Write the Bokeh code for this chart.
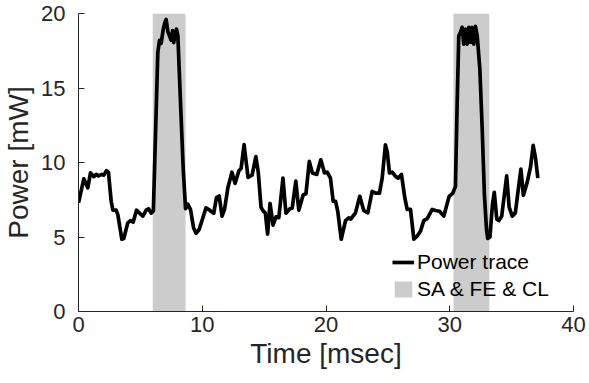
from bokeh.plotting import figure
from bokeh.models import Range1d, FixedTicker, Legend, LegendItem
from bokeh.embed import file_html
from bokeh.resources import INLINE

# ---- data ----
time_ms = [0.0, 0.43, 0.75, 0.97, 1.24, 1.43, 1.62, 1.89, 2.05, 2.26, 2.42, 2.64, 2.78, 3.04, 3.18,
           3.5, 3.66, 3.98, 4.2, 4.42, 4.69, 4.93, 5.2, 5.47, 5.66, 5.87, 6.05, 6.22, 6.41, 6.55,
           6.68, 6.84, 6.98, 7.08, 7.22, 7.35, 7.49, 7.6, 7.7, 7.81, 7.92, 8.03, 8.24, 8.46, 8.65,
           8.83, 9.05, 9.3, 9.5, 9.75, 10.3, 10.6, 10.93, 11.15, 11.37, 11.6, 11.8, 12.07, 12.4,
           12.65, 12.96, 13.14, 13.38, 13.7, 14.03, 14.33, 14.52, 14.75, 14.92, 15.1, 15.28, 15.48,
           15.72, 15.96, 16.19, 16.52, 16.76, 17.08, 17.27, 17.56, 17.8, 18.16, 18.38, 18.65, 18.9,
           19.25, 19.58, 19.88, 20.1, 20.36, 20.58, 20.77, 20.95, 21.23, 21.58, 21.84, 22.0, 22.38,
           22.73, 23.05, 23.38, 23.73, 24.0, 24.32, 24.54, 24.8, 24.95, 25.13, 25.35, 25.62, 25.83,
           26.1, 26.37, 26.56, 26.83, 27.1, 27.37, 27.64, 27.9, 28.18, 28.58, 28.85, 29.17, 29.52,
           29.95, 30.25, 30.46, 30.6, 30.73, 30.87, 31.0, 31.13, 31.27, 31.4, 31.54, 31.68, 31.8,
           31.94, 32.08, 32.22, 32.43, 32.62, 32.8, 32.97, 33.07, 33.25, 33.45, 33.6, 33.8, 33.97,
           34.2, 34.6, 34.8, 35.05, 35.3, 35.5, 35.75, 35.95, 36.25, 36.53, 36.74, 36.93, 37.12]
power_mw = [7.3, 8.9, 8.3, 9.3, 9.05, 9.2, 9.1, 9.2, 9.15, 9.45, 9.35, 7.4, 6.8, 6.8, 6.5,
            4.85, 4.9, 5.95, 6.1, 6.0, 6.8, 6.6, 6.4, 6.8, 6.9, 6.6, 6.75, 11.8, 17.4, 18.2,
            18.0, 18.9, 19.4, 19.6, 18.8, 18.5, 18.2, 18.85, 18.05, 18.7, 18.95, 18.5, 14.1, 9.6, 6.9,
            7.2, 6.85, 5.6, 5.25, 5.5, 6.95, 6.8, 6.6, 7.65, 7.75, 6.4, 6.85, 8.3, 9.35,
            8.6, 9.45, 9.6, 11.2, 9.0, 9.15, 10.4, 9.4, 7.0, 6.75, 6.6, 5.2, 7.25,
            5.8, 6.35, 6.3, 8.95, 6.6, 6.9, 6.95, 8.75, 6.8, 7.84, 7.9, 10.07, 9.29,
            9.2, 10.18, 9.3, 9.35, 8.95, 7.4, 7.4, 6.73, 4.85, 6.1, 6.28, 6.2, 6.62,
            7.73, 6.78, 6.62, 8.07, 7.95, 7.95, 8.95, 11.18, 10.7, 9.3, 9.35, 9.07, 8.95,
            9.2, 7.62, 6.85, 6.85, 4.85, 5.07, 5.4, 6.1, 6.23, 6.85, 6.78, 6.73, 6.4,
            7.73, 7.95, 8.4, 14.0, 18.5, 18.73, 19.07, 17.95, 18.95, 17.95, 19.07, 18.07, 19.07,
            17.95, 19.13, 18.5, 16.3, 12.3, 7.84, 5.5, 4.9, 5.0, 7.2, 8.0, 6.2, 6.1,
            6.4, 9.1, 7.0, 6.4, 6.62, 7.95, 9.55, 7.8, 8.65, 9.7, 11.15, 10.3, 8.95]
shade_start = [6.0, 30.3]
shade_end = [8.65, 33.2]
shade_top = [20, 20]
shade_bottom = [0, 0]
x_ticks = [0, 10, 20, 30, 40]
y_ticks = [0, 5, 10, 15, 20]
series_names = ["Power trace", "SA & FE & CL"]

FONT = "Liberation Sans"
AX = "#262626"

p = figure(width=597, height=391, output_backend="svg", toolbar_location=None,
           x_range=Range1d(0, 40), y_range=Range1d(0, 20),
           min_border_left=86, min_border_right=16, min_border_top=21, min_border_bottom=72)
p.margin = (-8, -8, -8, -8)
p.outline_line_color = None
p.background_fill_color = "white"
p.border_fill_color = "white"
p.xgrid.visible = False
p.ygrid.visible = False

shade = p.quad(left=shade_start, right=shade_end, top=shade_top, bottom=shade_bottom,
               fill_color="#cccccc", line_color=None)
trace = p.line(time_ms, power_mw, line_color="black", line_width=3.7, line_join="round")

for ax, ticks in ((p.xaxis[0], x_ticks), (p.yaxis[0], y_ticks)):
    ax.ticker = FixedTicker(ticks=ticks)
    ax.minor_tick_line_color = None
    ax.major_tick_in = 6
    ax.major_tick_out = 0
    ax.axis_line_color = AX
    ax.major_tick_line_color = AX
    ax.major_label_text_color = AX
    ax.major_label_text_font = FONT
    ax.major_label_text_font_size = "22px"
    ax.axis_label_text_font = FONT
    ax.axis_label_text_font_size = "28px"
    ax.axis_label_text_font_style = "normal"
    ax.axis_label_text_color = AX

p.xaxis.axis_label = "Time [msec]"
p.yaxis.axis_label = "Power [mW]"
p.xaxis.major_label_standoff = 5
p.yaxis.major_label_standoff = 13
p.xaxis.axis_label_standoff = 3
p.yaxis.axis_label_standoff = 4

legend = Legend(items=[LegendItem(label=series_names[0], renderers=[trace]),
                       LegendItem(label=series_names[1], renderers=[shade])],
                location=(310, 6), background_fill_alpha=0, border_line_alpha=0,
                label_text_font=FONT, label_text_font_size="21px", label_text_color="black",
                glyph_width=22, glyph_height=20, label_standoff=3, spacing=3, padding=4,
                margin=0)
p.add_layout(legend, "center")

open("out.html", "w").write(file_html(p, INLINE))
